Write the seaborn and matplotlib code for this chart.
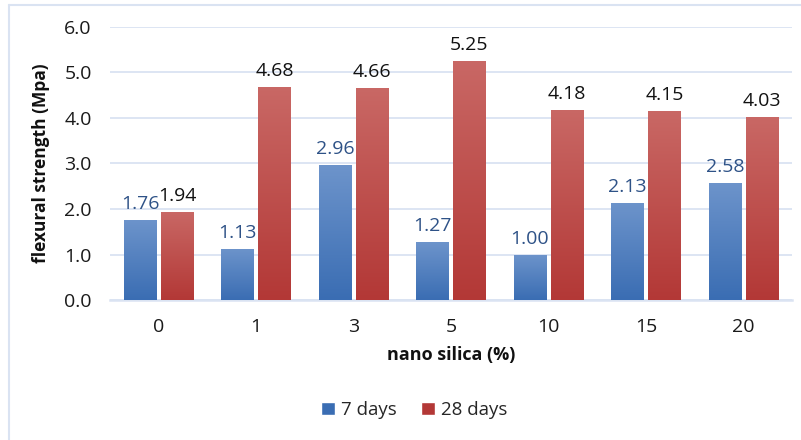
import numpy as np
import pandas as pd
import matplotlib
matplotlib.use("Agg")
import matplotlib.pyplot as plt
from matplotlib.colors import LinearSegmentedColormap
from matplotlib.lines import Line2D
import seaborn as sns

# Flexural strength by nano silica content
categories = ["0", "1", "3", "5", "10", "15", "20"]
days7 = [1.76, 1.13, 2.96, 1.27, 1.00, 2.13, 2.58]
days28 = [1.94, 4.68, 4.66, 5.25, 4.18, 4.15, 4.03]
series = ["7 days", "28 days"]
y_ticks = [0.0, 1.0, 2.0, 3.0, 4.0, 5.0, 6.0]

df = pd.DataFrame({
    "nano silica (%)": categories * 2,
    "flexural strength (Mpa)": days7 + days28,
    "age": [series[0]] * len(categories) + [series[1]] * len(categories),
})

sns.set_style("white")
plt.rcParams["font.family"] = ["Open Sans", "DejaVu Sans"]

blue_top, blue_bot = "#6d94cb", "#3a6db3"
red_top, red_bot = "#c96865", "#b33836"
grid_col = "#dae3f2"

fig = plt.figure(figsize=(8.01, 4.40), dpi=100)
ax = fig.add_axes([0.137, 0.318, 0.852, 0.621])

sns.barplot(data=df, x="nano silica (%)", y="flexural strength (Mpa)", hue="age",
            order=categories, hue_order=series,
            palette=[blue_bot, red_bot], width=0.76, gap=0.13,
            legend=False, ax=ax, zorder=3)

ax.set_ylim(0, 6.0)
ax.set_yticks(y_ticks)
ax.set_yticklabels([f"{v:.1f}" for v in y_ticks])
ax.set_xlim(-0.5, len(categories) - 0.5)

# Gradient fill on each bar
grads = {0: LinearSegmentedColormap.from_list("b", [blue_bot, blue_top]),
         1: LinearSegmentedColormap.from_list("r", [red_bot, red_top])}
n = len(categories)
grad_img = np.linspace(0, 1, 256).reshape(-1, 1)
for i, patch in enumerate(ax.patches[:2 * n]):
    s = i // n
    x0, y0 = patch.get_x(), patch.get_y()
    w, h = patch.get_width(), patch.get_height()
    im = ax.imshow(grad_img, cmap=grads[s], aspect="auto", origin="lower",
                   extent=[x0, x0 + w, y0, y0 + h], zorder=3.5)
    im.set_clip_path(patch)
    patch.set_facecolor("none")
    patch.set_edgecolor("none")
    val = days7[i % n] if s == 0 else days28[i % n]
    ax.annotate(f"{val:.2f}", (x0 + w / 2, h), xytext=(0, 5), textcoords="offset points",
                ha="center", va="bottom", fontsize=14,
                color="#2e5287" if s == 0 else "#111111", zorder=5)

ax.set_xlim(-0.5, len(categories) - 0.5)
ax.set_ylim(0, 6.0)

# Grid and spines
ax.yaxis.grid(True, color=grid_col, linewidth=1.3, zorder=0)
ax.set_axisbelow(True)
for side in ["left", "right", "top"]:
    ax.spines[side].set_visible(False)
ax.spines["bottom"].set_color(grid_col)
ax.spines["bottom"].set_linewidth(1.8)
ax.tick_params(axis="both", length=0, labelsize=14, colors="#1a1a1a")
ax.tick_params(axis="y", pad=13)
ax.tick_params(axis="x", pad=13)

ax.set_xlabel("nano silica (%)", fontsize=13, fontweight="bold", labelpad=7, color="#111111")
ax.set_ylabel("flexural strength (Mpa)", fontsize=12.5, fontweight="bold", labelpad=10, color="#111111")

handles = [plt.Rectangle((0, 0), 1, 1, facecolor=blue_bot),
           plt.Rectangle((0, 0), 1, 1, facecolor=red_bot)]
fig.legend(handles, series, loc="center", bbox_to_anchor=(0.517, 0.068), ncol=2,
           frameon=False, fontsize=13.5, handlelength=0.75, handleheight=0.75,
           handletextpad=0.3, columnspacing=1.3)

# Chart area border (top and left edges)
fig.add_artist(Line2D([9 / 801, 1.0], [1 - 5 / 440, 1 - 5 / 440], transform=fig.transFigure,
                      color=grid_col, linewidth=1.5))
fig.add_artist(Line2D([9 / 801, 9 / 801], [0, 1 - 5 / 440], transform=fig.transFigure,
                      color=grid_col, linewidth=1.5))

fig.savefig("out.png", dpi=100)
